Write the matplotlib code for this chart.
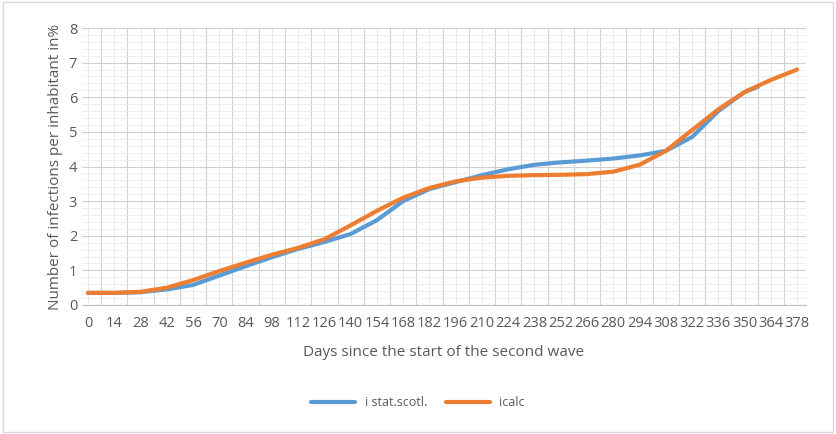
import matplotlib
matplotlib.use("Agg")
import matplotlib.pyplot as plt
from matplotlib.ticker import MultipleLocator, FixedLocator

days = list(range(0, 379, 14))
icalc = [0.35, 0.35, 0.38, 0.50, 0.72, 0.98, 1.22, 1.45, 1.65, 1.90, 2.30, 2.72, 3.10, 3.38,
         3.57, 3.68, 3.73, 3.75, 3.76, 3.78, 3.85, 4.05, 4.45, 5.05, 5.65, 6.15, 6.50, 6.80]
stat_days = list(range(0, 351, 14)) + [357]
stat = [0.35, 0.35, 0.37, 0.45, 0.58, 0.85, 1.12, 1.38, 1.62, 1.82, 2.05, 2.45, 3.00, 3.35,
        3.55, 3.75, 3.92, 4.05, 4.12, 4.17, 4.23, 4.32, 4.45, 4.85, 5.60, 6.15, 6.30]

plt.rcParams['font.family'] = ['Open Sans', 'DejaVu Sans']
fig = plt.figure(figsize=(8.36, 4.34), dpi=100)
ax = fig.add_axes([82/836, 1-305/434, 724/836, 277/434])
xb = [d/14 for d in stat_days]
xo = [d/14 for d in days]
ax.plot(xb, stat, color='#5B9BD5', lw=3, label='i stat.scotl.', solid_capstyle='round')
ax.plot(xo, icalc, color='#ED7D31', lw=3, label='icalc', solid_capstyle='round')
ax.set_xlim(-0.23, 27.34)
ax.set_ylim(0, 8)
ax.xaxis.set_major_locator(FixedLocator(range(len(days))))
ax.set_xticklabels([str(d) for d in days])
ax.yaxis.set_major_locator(MultipleLocator(1))
ax.yaxis.set_minor_locator(MultipleLocator(0.2))
ax.tick_params(length=0, which='both', labelsize=10.5, colors='#595959')
ax.tick_params(axis='x', pad=8)
ax.grid(False)
for x in [i + 0.5 for i in range(-1, 28)]:
    ax.axvline(x, color='#D0D0D0', lw=0.8, zorder=0)
for x in range(28):
    ax.axvline(x, color='#E6E6E6', lw=0.6, zorder=0)
ax.grid(True, axis='y', which='major', color='#D0D0D0', lw=0.8, zorder=0)
ax.grid(True, axis='y', which='minor', color='#EBEBEB', lw=0.6, zorder=0)
for s in ['top', 'right', 'left']:
    ax.spines[s].set_visible(False)
ax.spines['bottom'].set_color('#BFBFBF')
ax.set_axisbelow(True)
ax.set_xlabel('Days since the start of the second wave', fontsize=11, color='#595959', labelpad=10)
ax.set_ylabel('Number of infections per inhabitant in%', fontsize=11, color='#595959')
fig.legend(loc='center', bbox_to_anchor=(0.5, 1-403/434), ncol=2, frameon=False, fontsize=9,
           handlelength=3.5, columnspacing=1.5, labelcolor='#595959')
fig.patches.append(plt.Rectangle((0.003, 0.005), 0.994, 0.99, transform=fig.transFigure,
                                 fill=False, edgecolor='#D9D9D9', lw=1))
fig.savefig('out.png', dpi=100)
